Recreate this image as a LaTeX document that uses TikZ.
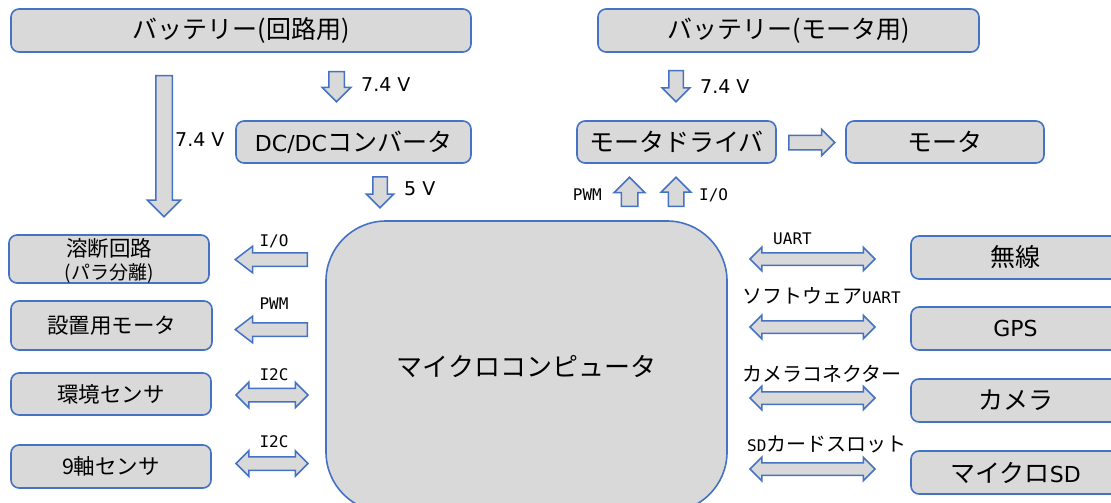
\documentclass[tikz,border=0pt]{standalone}
\usepackage{fontspec}
\setmainfont{Noto Sans CJK JP}
\newfontfamily\lat{DejaVu Sans}
\newfontfamily\mono{DejaVu Sans Mono}
\usetikzlibrary{shapes.arrows}
\definecolor{bblue}{HTML}{4472C4}
\definecolor{bgray}{HTML}{D9D9D9}
\tikzset{
  box/.style={draw=bblue, fill=bgray, line width=1.6pt, rounded corners=8pt, inner sep=0pt, align=center, font=\fontsize{25}{28}\selectfont},
  sarr/.style={single arrow, draw=bblue, fill=bgray, line width=1.5pt, anchor=tail},
  darr/.style={double arrow, draw=bblue, fill=bgray, line width=1.5pt},
  volt/.style={font=\lat\fontsize{19}{22}\selectfont, inner sep=0pt},
  lab/.style={font=\fontsize{20}{22}\selectfont, inner sep=0pt},
  intext/.style={inner sep=0pt},
}
\newcommand{\mo}[1]{{\mono\fontsize{16}{18}\selectfont #1}}
\newcommand{\la}[1]{{\lat\fontsize{22}{26}\selectfont #1}}
\begin{document}
\begin{tikzpicture}[x=1pt,y=-1pt]
\useasboundingbox (0,0) rectangle (1111,503);
\clip (0,0) rectangle (1111,503);
% boxes
\node[box, minimum width=460pt, minimum height=43pt] (batc) at (241,30.5) {バッテリー(回路用)};
\node[box, minimum width=381pt, minimum height=43pt] (batm) at (788.5,30.5) {バッテリー(モータ用)};
\node[box, minimum width=235pt, minimum height=42pt] (dcdc) at (353.5,142) {\la{DC/DC}コンバータ};
\node[box, minimum width=199pt, minimum height=42pt] (mdrv) at (676.5,142) {モータドライバ};
\node[box, minimum width=198pt, minimum height=42pt] (mot) at (945,142) {モータ};
% micro
\node[box, rounded corners=60pt, minimum width=401pt, minimum height=291pt, font=\fontsize{26}{28}\selectfont] (mcu) at (526.5,366.5) {マイクロコンピュータ};
% left boxes
\node[box, minimum width=200pt, minimum height=48pt] (fuse) at (109,259) {};
\node[intext, font=\fontsize{21.5}{24}\selectfont] (fuse1) at (109,248.5) {溶断回路};
\node[intext, font=\fontsize{19}{20}\selectfont] (fuse2) at (109,273) {(パラ分離)};
\node[box, minimum width=201pt, minimum height=49pt, font=\fontsize{21.5}{24}\selectfont] (smot) at (111.5,325.5) {設置用モータ};
\node[box, minimum width=200pt, minimum height=42pt, font=\fontsize{21.5}{24}\selectfont] (env) at (111,394) {環境センサ};
\node[box, minimum width=200pt, minimum height=43pt, font=\fontsize{21.5}{24}\selectfont] (nine) at (111,466.5) {9軸センサ};
% right boxes
\node[box, minimum width=209pt, minimum height=43pt] (wl) at (1015.5,257.5) {無線};
\node[box, minimum width=209pt, minimum height=43pt] (gps) at (1015.5,328.5) {\la{GPS}};
\node[box, minimum width=209pt, minimum height=43pt] (cam) at (1015.5,400.5) {カメラ};
\node[box, minimum width=209pt, minimum height=43pt] (sd) at (1015.5,472.5) {マイクロ\la{SD}};
% power arrows
\node[sarr, shape border rotate=270, inner sep=7.5pt, minimum height=141pt, single arrow head extend=8.5pt] (a1) at (164,75) {};
\node[sarr, shape border rotate=270, inner sep=7pt, minimum height=30pt, single arrow head extend=6.5pt] (a2) at (336.5,71) {};
\node[sarr, shape border rotate=270, inner sep=6.5pt, minimum height=31pt, single arrow head extend=6.5pt] (a3) at (380,176) {};
\node[sarr, shape border rotate=270, inner sep=6.5pt, minimum height=31pt, single arrow head extend=6.5pt] (a4) at (676,70) {};
\node[sarr, inner sep=6.5pt, minimum height=46pt, single arrow head extend=6pt] (a5) at (788,142.5) {};
\node[sarr, shape border rotate=90, inner sep=7.5pt, minimum height=29pt, single arrow head extend=7pt] (a6) at (629.5,207) {};
\node[sarr, shape border rotate=90, inner sep=7pt, minimum height=29pt, single arrow head extend=7pt] (a7) at (676,207) {};
% left signal arrows
\node[sarr, shape border rotate=180, inner sep=6pt, minimum height=72pt, single arrow head extend=6.5pt, single arrow tip angle=75] (l1) at (308,259.5) {};
\node[sarr, shape border rotate=180, inner sep=6pt, minimum height=72pt, single arrow head extend=6.5pt, single arrow tip angle=75] (l2) at (308,329.5) {};
\node[darr, inner sep=6pt, minimum height=72pt, double arrow head extend=6pt] (l3) at (272,395) {};
\node[darr, inner sep=6pt, minimum height=72pt, double arrow head extend=6pt] (l4) at (272,463.5) {};
% right signal arrows
\node[darr, inner sep=5.5pt, minimum height=125pt, double arrow head extend=5.5pt] (r1) at (812.5,259) {};
\node[darr, inner sep=5.5pt, minimum height=125pt, double arrow head extend=5.5pt] (r2) at (812.5,327) {};
\node[darr, inner sep=5.5pt, minimum height=125pt, double arrow head extend=5.5pt] (r3) at (812.5,398) {};
\node[darr, inner sep=5.5pt, minimum height=125pt, double arrow head extend=5.5pt] (r4) at (812.5,469) {};
% voltage labels
\node[volt, anchor=west] (v1) at (175,140) {7.4 V};
\node[volt, anchor=west] (v2) at (361,85) {7.4 V};
\node[volt, anchor=west] (v3) at (404,189) {5 V};
\node[volt, anchor=west] (v4) at (700,87) {7.4 V};
% signal labels
\node[lab, anchor=east] (t1) at (602,195) {\mo{PWM}};
\node[lab, anchor=west] (t2) at (699,195) {\mo{I/O}};
\node[lab] (t3) at (274,241) {\mo{I/O}};
\node[lab] (t4) at (274,304) {\mo{PWM}};
\node[lab] (t5) at (274,375) {\mo{I2C}};
\node[lab] (t6) at (274,442) {\mo{I2C}};
\node[lab] (t7) at (792.5,239) {\mo{UART}};
\node[lab, anchor=west] (t8) at (742,296) {ソフトウェア\mo{UART}};
\node[lab, anchor=west] (t9) at (742,374) {カメラコネクター};
\node[lab, anchor=west] (t10) at (747,444) {\mo{SD}カードスロット};
\end{tikzpicture}
\end{document}
